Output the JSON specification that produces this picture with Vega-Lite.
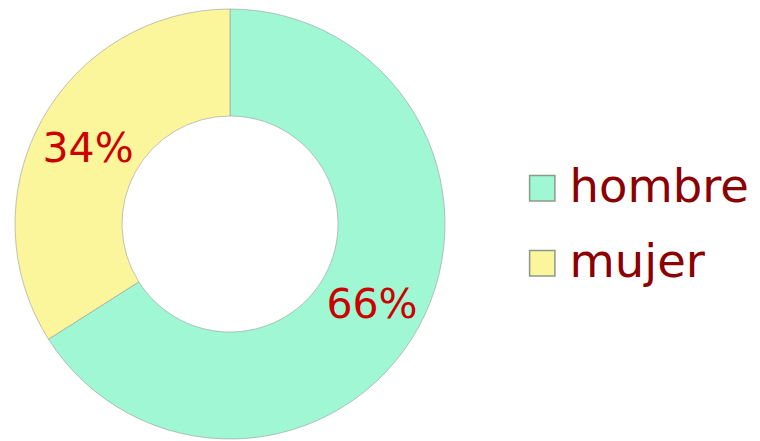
{
  "$schema": "https://vega.github.io/schema/vega-lite/v6.json",
  "width": 460,
  "height": 448,
  "padding": 0,
  "background": "white",
  "view": {"stroke": null},
  "data": {"values": [
    {"sexo": "hombre", "pct": 66, "label": "66%", "orden": 1},
    {"sexo": "mujer", "pct": 34, "label": "34%", "orden": 2}
  ]},
  "encoding": {
    "theta": {"field": "pct", "type": "quantitative", "stack": true},
    "order": {"field": "orden", "type": "quantitative"}
  },
  "layer": [
    {
      "mark": {"type": "arc", "outerRadius": 215, "innerRadius": 108, "stroke": "#9a9a9a", "strokeWidth": 0.6},
      "encoding": {
        "color": {
          "field": "sexo", "type": "nominal",
          "scale": {"domain": ["hombre", "mujer"], "range": ["#a0f7d4", "#fbf59c"]},
          "legend": {
            "title": null,
            "orient": "none",
            "legendX": 519,
            "legendY": 165,
            "symbolType": "square",
            "symbolSize": 640,
            "symbolStrokeColor": "#8a9a8a",
            "symbolStrokeWidth": 1.5,
            "labelFont": "DejaVu Sans",
            "labelFontSize": 46.5,
            "labelColor": "#8b0000",
            "labelLimit": 400,
            "rowPadding": 28,
            "labelOffset": 4
          }
        }
      }
    },
    {
      "mark": {"type": "text", "radius": 162, "dy": 4, "font": "DejaVu Sans", "fontSize": 41, "color": "#cc0000"},
      "encoding": {"text": {"field": "label"}}
    }
  ]
}
